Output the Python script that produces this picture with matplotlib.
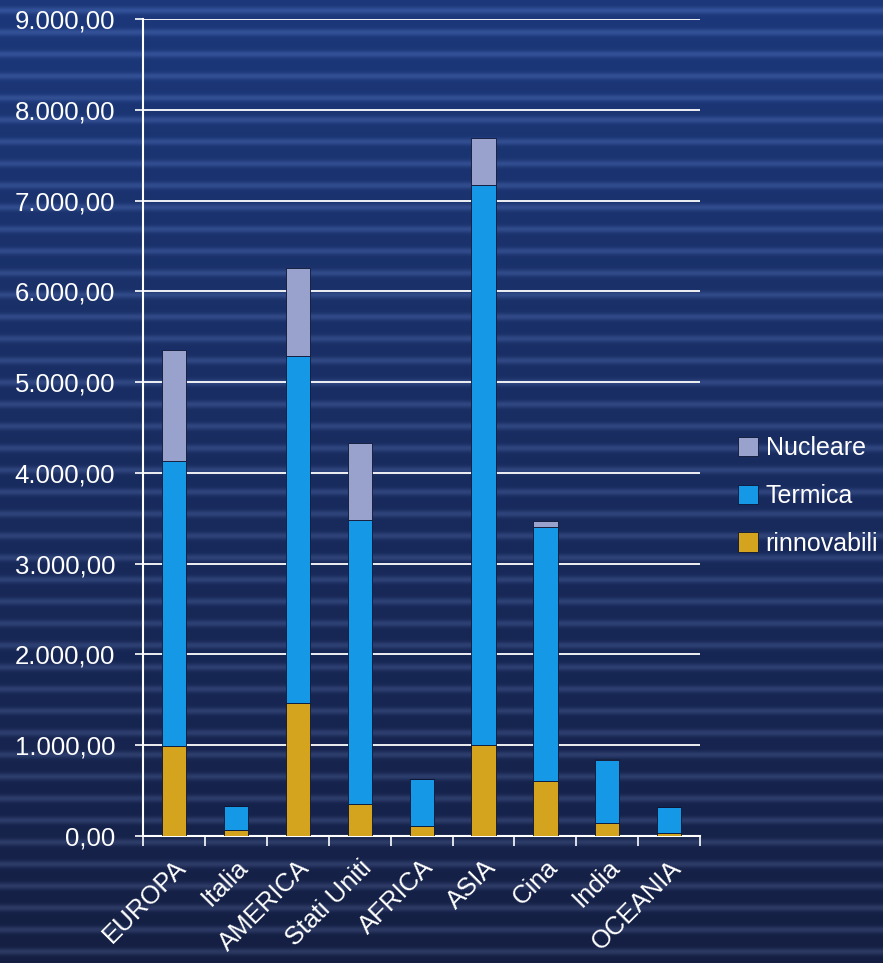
import numpy as np
import matplotlib.pyplot as plt
from matplotlib.ticker import FuncFormatter

plt.rcParams['font.family'] = ['Liberation Sans', 'DejaVu Sans']

regioni = ['EUROPA', 'Italia', 'AMERICA', 'Stati Uniti', 'AFRICA', 'ASIA', 'Cina', 'India', 'OCEANIA']
rinnovabili = [990, 66, 1460, 350, 110, 1000, 605, 145, 35]
termica = [3140, 264, 3830, 3130, 520, 6170, 2800, 690, 285]
nucleare = [1220, 0, 970, 850, 0, 520, 70, 15, 0]

fig = plt.figure(figsize=(8.83, 9.63), dpi=100)

# background: dark navy, brighter at the top, with horizontal streaks
bg = fig.add_axes([0, 0, 1, 1], zorder=-10)
yy = np.linspace(0, 1, 963)[:, None]
base = yy
streak = 0.10 * np.sin(yy * 2 * np.pi * 22) ** 8
img = np.dstack([
    (0.08 + 0.03 * base + streak * 0.9) * np.ones((1, 10)),
    (0.12 + 0.10 * base + streak) * np.ones((1, 10)),
    (0.26 + 0.22 * base + streak * 1.2) * np.ones((1, 10)),
])
bg.imshow(np.clip(img, 0, 1), aspect='auto', extent=[0, 1, 0, 1], origin='lower')
bg.axis('off')

ax = fig.add_axes([0.162, 0.132, 0.631, 0.848])
ax.set_facecolor('none')

x = np.arange(len(regioni))
w = 0.39
ren = np.array(rinnovabili)
ter = np.array(termica)
nuc = np.array(nucleare)
kw = dict(width=w, edgecolor='#0d1533', linewidth=0.6, zorder=3)
b1 = ax.bar(x, ren, color='#d4a41e', label='rinnovabili', **kw)
b2 = ax.bar(x, ter, bottom=ren, color='#1598e6', label='Termica', **kw)
b3 = ax.bar(x, nuc, bottom=ren + ter, color='#98a2cc', label='Nucleare', **kw)

ax.set_xlim(-0.5, len(regioni) - 0.5)
ax.set_ylim(0, 9000)
ax.set_yticks(np.arange(0, 9001, 1000))
ax.yaxis.set_major_formatter(FuncFormatter(
    lambda v, p: f'{v:,.2f}'.replace(',', 'X').replace('.', ',').replace('X', '.')))
ax.grid(axis='y', color='white', linewidth=1.3, zorder=0)
ax.set_axisbelow(True)

ax.set_xticks(np.arange(-0.5, len(regioni), 1.0))
ax.set_xticklabels([])
ax.set_xticks(x, minor=True)
ax.set_xticklabels(regioni, minor=True, rotation=45, ha='right', va='top',
                   rotation_mode='anchor', fontsize=18.5, color='white')
ax.tick_params(axis='x', which='minor', length=0, pad=14)
ax.tick_params(axis='x', which='major', length=7, color='white', width=1.2)
ax.tick_params(axis='y', length=6, color='white', width=1.2, labelsize=18.5,
               labelcolor='white', pad=14)

for s in ['top', 'right']:
    ax.spines[s].set_visible(False)
for s in ['left', 'bottom']:
    ax.spines[s].set_color('white')
    ax.spines[s].set_linewidth(1.5)

leg = fig.legend(handles=[b3, b2, b1], loc='center left', bbox_to_anchor=(0.836, 0.485),
                 frameon=False, fontsize=18, labelcolor='white', borderpad=0,
                 borderaxespad=0, handlelength=0.8, handleheight=0.8,
                 handletextpad=0.3, labelspacing=0.95)

fig.savefig('out.png', dpi=100)
